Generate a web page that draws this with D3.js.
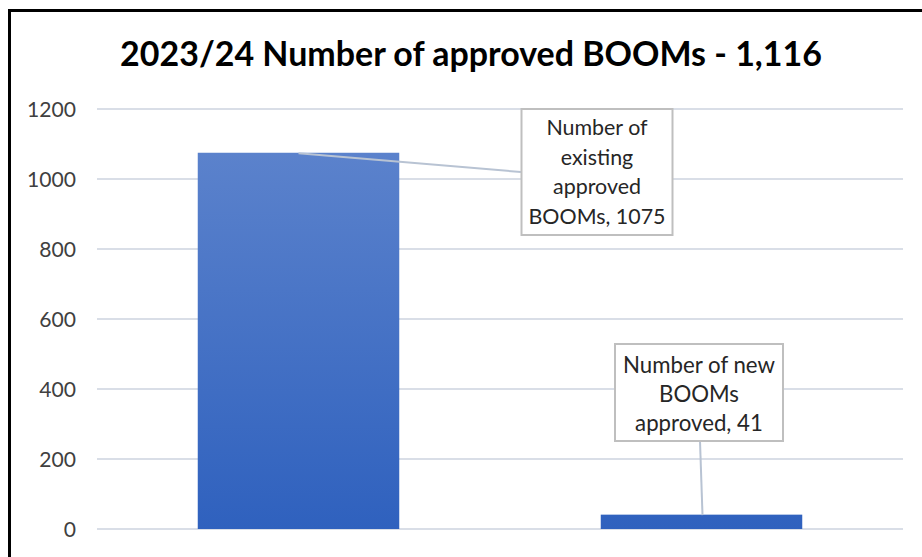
<!DOCTYPE html>
<html><head><meta charset="utf-8">
<script src="https://cdn.jsdelivr.net/npm/d3@7"></script>
<style>html,body{margin:0;padding:0;background:#fff;}svg{display:block;}</style>
</head><body>
<svg id="chart" width="922" height="557"></svg>
<script>
const titleText = "2023/24 Number of approved BOOMs - 1,116";
const categories = ["Number of existing approved BOOMs", "Number of new BOOMs approved"];
const values = [1075, 41];
const labelLines = [["Number of", "existing", "approved", "BOOMs, 1075"], ["Number of new", "BOOMs", "approved, 41"]];
const tickValues = [0, 200, 400, 600, 800, 1000, 1200];

const FONT = "Lato, 'Open Sans', sans-serif";
const svg = d3.select("#chart");

// frame
svg.append("rect").attr("x", 9.5).attr("y", 10.5).attr("width", 930).attr("height", 600)
  .attr("fill", "#fff").attr("stroke", "#000").attr("stroke-width", 3);

const x = d3.scaleBand().domain(categories).range([97, 903]).paddingInner(0.5).paddingOuter(0.25);
const y = d3.scaleLinear().domain([0, 1200]).range([529, 109]);

function fitSize(sel, target, base) {
  const w = sel.node().getComputedTextLength();
  sel.attr("font-size", base * target / w);
}

// gridlines
const axis = d3.axisLeft(y).tickValues(tickValues).tickSize(0).tickPadding(0).tickFormat(d3.format("d"));
const gAxis = svg.append("g").attr("transform", "translate(76,0)").call(axis);
gAxis.select(".domain").remove();
gAxis.selectAll("text").attr("font-family", FONT).attr("fill", "#404040").attr("font-size", 19).attr("dy", "0.34em");
const t1200 = gAxis.selectAll("text").filter(d => d === 1200);
const tickSize = 19 * 49 / t1200.node().getComputedTextLength();
gAxis.selectAll("text").attr("font-size", tickSize);

svg.append("g").selectAll("line").data(tickValues).join("line")
  .attr("x1", 97).attr("x2", 903).attr("y1", d => y(d)).attr("y2", d => y(d))
  .attr("stroke", "#d9dee7").attr("stroke-width", 2);

// gradient
const defs = svg.append("defs");
const grad = defs.append("linearGradient").attr("id", "barGrad")
  .attr("gradientUnits", "userSpaceOnUse").attr("x1", 0).attr("y1", y(1075)).attr("x2", 0).attr("y2", y(0));
grad.append("stop").attr("offset", "0%").attr("stop-color", "#5b82cc");
grad.append("stop").attr("offset", "100%").attr("stop-color", "#2f61be");

svg.append("g").selectAll("rect").data(values).join("rect")
  .attr("x", (d, i) => x(categories[i])).attr("width", x.bandwidth())
  .attr("y", d => y(d)).attr("height", d => y(0) - y(d))
  .attr("fill", "url(#barGrad)");

// title
const title = svg.append("text").attr("x", 471).attr("y", 66).attr("text-anchor", "middle")
  .attr("font-family", FONT).attr("font-weight", "bold").attr("font-size", 30).attr("fill", "#000").text(titleText);
fitSize(title, 702, 30);

// data labels
const boxes = [
  {cx: 597, top: 109, bottom: 235, w: 151, lineY0: 128, lh: 29.5, target: 137, widest: 3, anchorY: 172, anchorX: 521},
  {cx: 699, top: 344, bottom: 441, w: 168, lineY0: 365, lh: 29, target: 152, widest: 0, anchorY: 441, anchorX: 700}
];
values.forEach((v, i) => {
  const b = boxes[i];
  const bx = x(categories[i]) + x.bandwidth() / 2;
  // leader
  const lx1 = i === 0 ? bx : bx + 1;
  svg.append("line").attr("x1", lx1).attr("y1", y(v) + 0.5)
    .attr("x2", b.anchorX).attr("y2", b.anchorY)
    .attr("stroke", "#b8c3d3").attr("stroke-width", 2);
  svg.append("rect").attr("x", b.cx - b.w / 2).attr("y", b.top).attr("width", b.w).attr("height", b.bottom - b.top)
    .attr("fill", "#fff").attr("stroke", "#bfbfbf").attr("stroke-width", 2);
  const g = svg.append("g");
  const texts = g.selectAll("text").data(labelLines[i]).join("text")
    .attr("x", b.cx).attr("y", (d, k) => b.lineY0 + k * b.lh).attr("dy", "0.35em")
    .attr("text-anchor", "middle").attr("font-family", FONT).attr("fill", "#262626").attr("font-size", 20)
    .text(d => d);
  const wnode = texts.filter((d, k) => k === b.widest);
  const fs = 20 * b.target / wnode.node().getComputedTextLength();
  texts.attr("font-size", fs);
});
</script>
</body></html>
